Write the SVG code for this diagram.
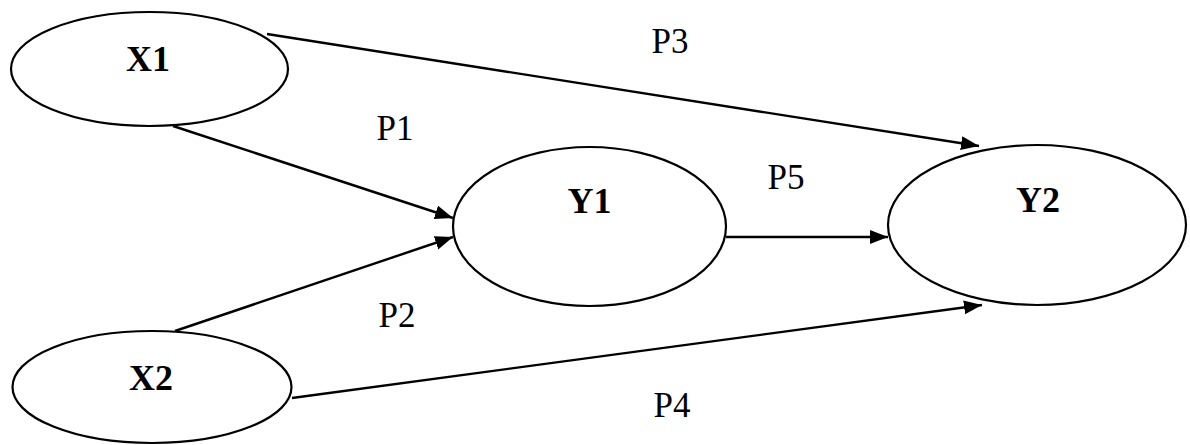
<svg xmlns="http://www.w3.org/2000/svg" width="1190" height="445" viewBox="0 0 1190 445">
<style>
.node{fill:#fff;stroke:#000;stroke-width:2.2}
.nl{font-family:"Liberation Serif","Times New Roman",serif;font-weight:bold;font-size:36px;text-anchor:middle;fill:#000}
.el{font-family:"Liberation Serif","Times New Roman",serif;font-size:35px;text-anchor:middle;fill:#000}
.c{stroke:#000;stroke-width:2.4;fill:none;marker-end:url(#ah)}
</style>
<defs>
<marker id="ah" markerUnits="userSpaceOnUse" markerWidth="20" markerHeight="16" refX="18" refY="7" orient="auto">
<path d="M0,0 L18,7 L0,14 z" fill="#000"/>
</marker>
</defs>
<rect width="1190" height="445" fill="#fff"/>
<g id="connectors">
<line class="c" x1="267" y1="34" x2="979" y2="146"/>
<line class="c" x1="173" y1="126" x2="453" y2="218"/>
<line class="c" x1="175" y1="331" x2="453" y2="237"/>
<line class="c" x1="726" y1="237" x2="888" y2="237"/>
<line class="c" x1="292" y1="398" x2="982" y2="305"/>
<text class="el" x="670" y="53">P3</text>
<text class="el" x="395" y="140">P1</text>
<text class="el" x="786" y="189">P5</text>
<text class="el" x="397" y="327">P2</text>
<text class="el" x="672" y="417">P4</text>
</g>
<g id="X1"><ellipse class="node" cx="149.5" cy="69" rx="138.5" ry="57"/><text class="nl" x="148" y="71">X1</text></g>
<g id="X2"><ellipse class="node" cx="152" cy="387" rx="139.5" ry="56"/><text class="nl" x="151" y="390">X2</text></g>
<g id="Y1"><ellipse class="node" cx="589.5" cy="226.5" rx="136.5" ry="79.5"/><text class="nl" x="589.5" y="213">Y1</text></g>
<g id="Y2"><ellipse class="node" cx="1037" cy="225" rx="149" ry="80"/><text class="nl" x="1038" y="212">Y2</text></g>
</svg>
